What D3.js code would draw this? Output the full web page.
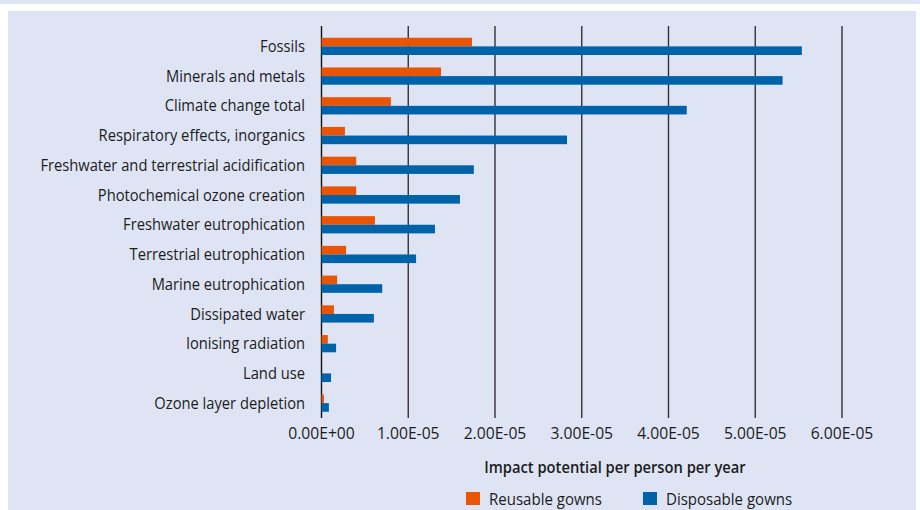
<!DOCTYPE html>
<html>
<head>
<meta charset="utf-8">
<script src="https://cdn.jsdelivr.net/npm/d3@7"></script>
<style>
  body { margin: 0; background: #fff; }
  text { font-family: "Open Sans", sans-serif; fill: #1c1c1c; }
</style>
</head>
<body>
<svg id="chart" width="920" height="510"></svg>
<script>
// categories, top to bottom
var categories = [
  "Fossils", "Minerals and metals", "Climate change total",
  "Respiratory effects, inorganics", "Freshwater and terrestrial acidification",
  "Photochemical ozone creation", "Freshwater eutrophication",
  "Terrestrial eutrophication", "Marine eutrophication", "Dissipated water",
  "Ionising radiation", "Land use", "Ozone layer depletion"
];
var reusable = [1.735e-5, 1.378e-5, 0.80e-5, 0.27e-5, 0.40e-5, 0.40e-5, 0.616e-5,
                0.283e-5, 0.18e-5, 0.143e-5, 0.073e-5, 0.0, 0.028e-5];
var disposable = [5.537e-5, 5.315e-5, 4.21e-5, 2.83e-5, 1.756e-5, 1.596e-5, 1.308e-5,
                  1.09e-5, 0.70e-5, 0.604e-5, 0.168e-5, 0.11e-5, 0.085e-5];
var xTicks = [0, 1e-5, 2e-5, 3e-5, 4e-5, 5e-5, 6e-5];
var tickLabels = ["0.00E+00", "1.00E-05", "2.00E-05", "3.00E-05", "4.00E-05", "5.00E-05", "6.00E-05"];
var seriesNames = ["Reusable gowns", "Disposable gowns"];
var colors = ["#ea5505", "#0062a9"];

var svg = d3.select("#chart");
var squeeze = 0.92; // the original font is a bit condensed

// background panel
svg.append("rect").attr("x", 0).attr("y", 0).attr("width", 920).attr("height", 4).attr("fill", "#dee4f4");
svg.append("rect").attr("x", 8).attr("y", 11).attr("width", 908).attr("height", 499).attr("fill", "#dee4f4");

var x = d3.scaleLinear().domain([0, 6e-5]).range([321.5, 842]);
var y = d3.scaleBand().domain(categories).range([31.5, 418]).paddingInner(0.42).paddingOuter(0.21);

var g = svg.append("g");

// gridlines
g.selectAll("line.grid")
  .data(xTicks)
  .enter().append("line")
    .attr("class", "grid")
    .attr("x1", function(d) { return x(d); })
    .attr("x2", function(d) { return x(d); })
    .attr("y1", 26)
    .attr("y2", 418)
    .attr("stroke", function(d) { return d === 0 ? "#111" : "#333"; })
    .attr("stroke-width", 1.4);

var bh = y.bandwidth() / 2;

// reusable bars
g.selectAll("rect.reuse")
  .data(categories)
  .enter().append("rect")
    .attr("x", x(0))
    .attr("y", function(d) { return y(d); })
    .attr("width", function(d, i) { return x(reusable[i]) - x(0); })
    .attr("height", bh)
    .attr("fill", colors[0]);

// disposable bars
g.selectAll("rect.disp")
  .data(categories)
  .enter().append("rect")
    .attr("x", x(0))
    .attr("y", function(d) { return y(d) + bh; })
    .attr("width", function(d, i) { return x(disposable[i]) - x(0); })
    .attr("height", bh)
    .attr("fill", colors[1]);

// category labels
g.selectAll("text.cat")
  .data(categories)
  .enter().append("text")
    .attr("transform", function(d) {
      return "translate(305," + (y(d) + y.bandwidth() / 2) + ") scale(" + squeeze + ",1)";
    })
    .attr("dy", "0.35em")
    .attr("text-anchor", "end")
    .style("font-size", "16px")
    .text(function(d) { return d; });

// tick labels
g.selectAll("text.tick")
  .data(xTicks)
  .enter().append("text")
    .attr("transform", function(d) { return "translate(" + x(d) + ",433) scale(0.98,1)"; })
    .attr("dy", "0.35em")
    .attr("text-anchor", "middle")
    .style("font-size", "16px")
    .text(function(d, i) { return tickLabels[i]; });

// axis title
svg.append("text")
  .attr("transform", "translate(615,467) scale(" + squeeze + ",1)")
  .attr("dy", "0.35em")
  .attr("text-anchor", "middle")
  .style("font-size", "16px")
  .style("font-weight", "600")
  .text("Impact potential per person per year");

// legend
var legendX = [466, 643];
seriesNames.forEach(function(name, i) {
  svg.append("rect")
    .attr("x", legendX[i]).attr("y", 492)
    .attr("width", 14).attr("height", 13)
    .attr("fill", colors[i]);
  svg.append("text")
    .attr("transform", "translate(" + (legendX[i] + 23) + ",499) scale(0.94,1)")
    .attr("dy", "0.35em")
    .style("font-size", "16px")
    .text(name);
});
</script>
</body>
</html>
